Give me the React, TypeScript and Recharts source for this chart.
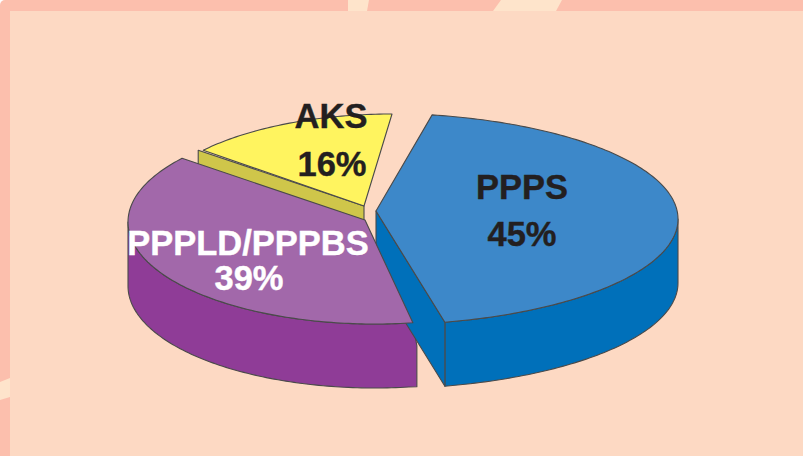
import React from "react";
import { PieChart, Pie } from "recharts";

const categories = ["AKS", "PPPLD/PPPBS", "PPPS"];
const shares = [16, 39, 45];

const chartData = categories.map((name, i) => ({ name, value: shares[i] }));

type Slice = {
  top: string; side: string; cx: number; cy: number; rx: number; ry: number;
  ax: number; ay: number; scale: number; shift: number; cut: "lo" | "hi" | null; cutDx: number;
  wall: boolean; cornerDx: number; cornerDy: number;
  textColor: string; nameX: number; nameY: number; valX: number; valY: number;
};

const depth = 64;
const slices: Record<string, Slice> = {
  AKS: { top: "#FFF45F", side: "#CFC64A", cx: 392, cy: 214, rx: 245, ry: 100, ax: 364, ay: 206, scale: 0.875, shift: 25, cut: "lo", cutDx: -5, wall: false, cornerDx: 0, cornerDy: 0, textColor: "#231F20", nameX: 331, nameY: 128, valX: 332, valY: 176 },
  "PPPLD/PPPBS": { top: "#A268AA", side: "#8F3C97", cx: 375, cy: 222, rx: 247, ry: 102, ax: 365, ay: 220, scale: 0.979, shift: 0.9, cut: null, cutDx: 0, wall: true, cornerDx: 4, cornerDy: 23, textColor: "#FFFFFF", nameX: 248, nameY: 255, valX: 249, valY: 290 },
  PPPS: { top: "#3D88C9", side: "#0070BA", cx: 376, cy: 219, rx: 302, ry: 106, ax: 376, ay: 211, scale: 0.9636, shift: -2.2, cut: "hi", cutDx: 0, wall: true, cornerDx: 0, cornerDy: 0, textColor: "#231F20", nameX: 522, nameY: 199, valX: 522, valY: 246 },
};

const edge = "#4A4A4A";
const rad = (d: number) => (d * Math.PI) / 180;

function arcPoints(s: Slice, from: number, to: number, dy = 0) {
  const steps = Math.max(2, Math.ceil(Math.abs(to - from)));
  const pts: [number, number][] = [];
  for (let i = 0; i <= steps; i++) {
    const t = rad(from + ((to - from) * i) / steps);
    pts.push([s.cx + s.rx * Math.cos(t), s.cy + s.ry * Math.sin(t) + dy]);
  }
  return pts;
}
const toPath = (pts: [number, number][]) =>
  pts.map((p, i) => `${i ? "L" : "M"}${p[0].toFixed(2)},${p[1].toFixed(2)}`).join(" ") + " Z";

function screenRange(props: any, s: Slice) {
  const a = (360 - props.startAngle) * s.scale + s.shift;
  const b = (360 - props.endAngle) * s.scale + s.shift;
  return { hi: Math.max(a, b), lo: Math.min(a, b) };
}
const sliceOf = (props: any): Slice => slices[props.payload?.name ?? props.name];

function SideShape(props: any) {
  const s = sliceOf(props);
  const { hi, lo } = screenRange(props, s);
  const parts: React.ReactNode[] = [];
  if (s.wall) {
    const from = Math.max(lo, 0);
    const to = Math.min(hi, 180);
    const upper = arcPoints(s, from, to);
    const lower = arcPoints(s, from, to, depth);
    const e = upper[0];
    const pts: [number, number][] = s.cornerDx
      ? [e, [e[0] + s.cornerDx, e[1] + s.cornerDy], [e[0] + s.cornerDx, e[1] + depth], ...lower.slice(1), ...upper.slice().reverse()]
      : [...upper, ...lower.slice().reverse()];
    parts.push(<path key="wall" d={toPath(pts)} fill={s.side} stroke={edge} strokeWidth={1.1} strokeLinejoin="round" />);
  }
  if (s.cut) {
    const p = arcPoints(s, s.cut === "lo" ? lo : hi, s.cut === "lo" ? lo : hi)[0];
    const x = p[0] + s.cutDx;
    const y = p[1];
    const pts: [number, number][] = [[s.ax, s.ay], [x, y], [x, y + depth], [s.ax, s.ay + depth]];
    parts.push(<path key="cut" d={toPath(pts)} fill={s.side} stroke={edge} strokeWidth={1.1} strokeLinejoin="round" />);
  }
  return <g>{parts}</g>;
}

function TopShape(props: any) {
  const s = sliceOf(props);
  const { hi, lo } = screenRange(props, s);
  const pts: [number, number][] = [[s.ax, s.ay], ...arcPoints(s, lo, hi)];
  return <path d={toPath(pts)} fill={s.top} stroke={edge} strokeWidth={1.1} strokeLinejoin="round" />;
}

function PieLabel(props: any) {
  const name: string = props.payload?.name ?? props.name;
  const s = slices[name];
  const style = { fontFamily: "'Liberation Sans', Arial, sans-serif", fontWeight: 700, fontSize: 34.5, fill: s.textColor, stroke: s.textColor, strokeWidth: 0.4 };
  return (
    <g>
      <text x={s.nameX} y={s.nameY} textAnchor="middle" style={style}>{name}</text>
      <text x={s.valX} y={s.valY} textAnchor="middle" style={style}>{`${props.value}%`}</text>
    </g>
  );
}

const stripeColor = "#FEE4CB";

export default function App() {
  return (
    <div style={{ position: "absolute", left: 0, top: 0, width: 803, height: 456, overflow: "hidden", background: "#FFFFFF" }}>
      <div style={{ position: "absolute", inset: 0, background: "#FCBFAD", borderTopLeftRadius: 5 }} />
      <div style={{ position: "absolute", inset: 0, background: stripeColor, clipPath: "polygon(348px 0, 369px 0, 367px 11px, 348px 11px)" }} />
      <div style={{ position: "absolute", inset: 0, background: stripeColor, clipPath: "polygon(501px 0, 562px 0, 556px 11px, 493px 11px)" }} />
      <div style={{ position: "absolute", inset: 0, background: stripeColor, clipPath: "polygon(0 382px, 10px 378px, 10px 397px, 0 400px)" }} />
      <div style={{ position: "absolute", left: 10, top: 11, right: 0, bottom: 0, background: "#FDD9C3" }} />
      <div style={{ position: "absolute", left: 0, top: 0 }}>
        <PieChart width={803} height={456} margin={{ top: 0, right: 0, bottom: 0, left: 0 }}>
          <Pie data={chartData} dataKey="value" nameKey="name" cx={376} cy={218} outerRadius={200} startAngle={80} endAngle={440}
            isAnimationActive={false} shape={SideShape} label={false} labelLine={false} stroke="none" />
          <Pie data={chartData} dataKey="value" nameKey="name" cx={376} cy={218} outerRadius={200} startAngle={80} endAngle={440}
            isAnimationActive={false} shape={TopShape} label={PieLabel} labelLine={false} stroke="none" />
        </PieChart>
      </div>
    </div>
  );
}
